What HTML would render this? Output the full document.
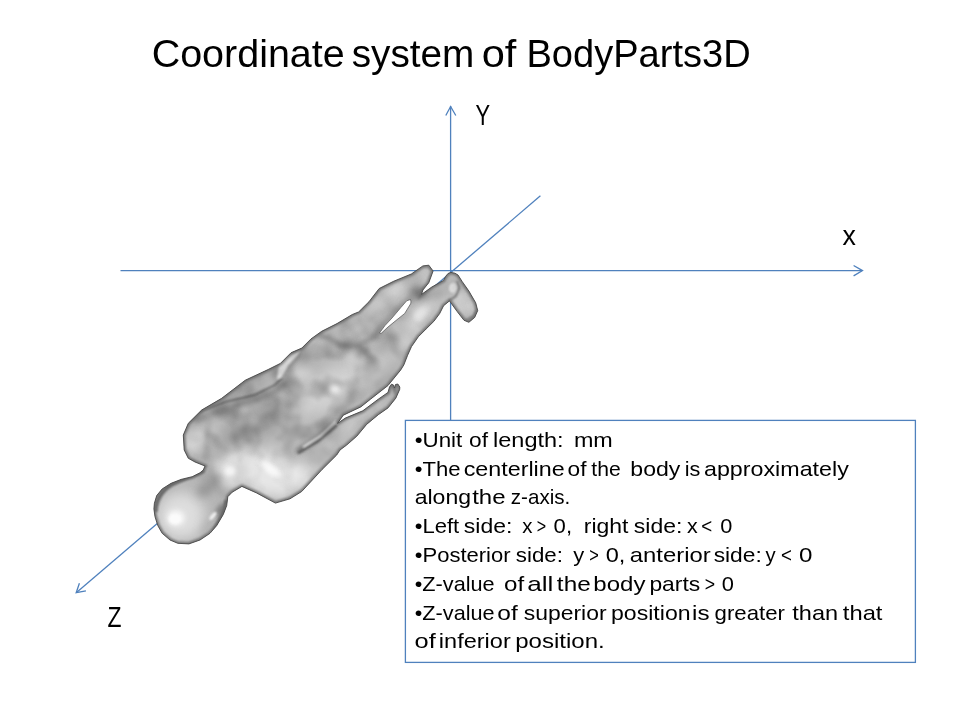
<!DOCTYPE html>
<html><head><meta charset="utf-8">
<style>
html,body{margin:0;padding:0;background:#fff;}
body{width:960px;height:720px;overflow:hidden;position:relative;}
svg{position:absolute;left:0;top:0;}
text{font-family:"Liberation Sans",sans-serif;fill:#000;white-space:pre;}
</style></head><body>
<svg xml:space="preserve" width="960" height="720" viewBox="0 0 960 720">
<g id="axes" stroke="#4F81BD" stroke-width="1.3" fill="none">
  <line x1="120.5" y1="270.6" x2="862" y2="270.6"/>
  <polyline points="853.6,265.5 862.5,270.6 853.6,275.9"/>
  <line x1="450.6" y1="106" x2="450.6" y2="420.4"/>
  <polyline points="445.8,115.5 450.6,106.5 455.8,115.5"/>
  <line x1="76.5" y1="592.6" x2="540.4" y2="195.8"/>
  <polyline points="79.4,583.2 76.2,592.7 85.9,590.8"/>
  <rect x="405.4" y="420.4" width="510" height="242"/>
</g>
<g id="body">
<defs>
  <path id="bp" d="M153.9,508.9 L154.4,503.3 L156.7,495.6 L162.2,488.9 L171.1,483.3 L181.1,479.4 L192.2,476.7 L200,472.8 L203.3,470 L205,466 L195,462 L188.3,458.3 L184.2,450 L183.3,435 L188.3,423.3 L201.7,410 L221.7,398.3 L245.3,380.2 L268.2,369.5 L280.4,363.4 L291.1,352.7 L301.8,348.1 L311,338.9 L321.7,331.3 L337,323.6 L352.3,314.5 L358.7,311.9 L369,301.7 L379.2,288.5 L393.8,281.2 L411.3,274 L422.9,265.9 L428.8,265.2 L433.1,271 L428.8,282.7 L422.9,290 L421.5,294.4 L431.7,287.1 L443.6,280.4 L445.6,276.5 L448,273.5 L451,272.4 L455,273.2 L458,275 L462.1,281.4 L468.9,291.1 L475.7,302.8 L477.7,310.6 L474.7,317.4 L468.9,322.3 L464,320.3 L457.2,311.6 L449.5,300.9 L443.6,305.7 L439.7,313.5 L433.9,321.3 L426.1,329 L418.3,336.8 L411.5,346.6 L407.6,355.3 L403.8,365 L400.7,370 L388,385.5 L370.5,399.2 L360.8,406.9 L343.3,415.2 L337.5,423.4 L345.3,418.1 L362.8,410.8 L378.3,399.2 L388,392.4 L389.5,387 L391.5,384.2 L393.5,385 L394.5,388 L395.5,384.5 L397.8,384 L399.8,387 L399.7,389.4 L395.8,398.2 L388,407.9 L378.3,414.7 L366.6,424.4 L356.9,436.1 L346.7,445 L340,450 L336.7,455 L322,469.6 L301.7,491.5 L290,498.8 L275.4,503.1 L256.5,492.9 L241.9,486.4 L232.2,492.2 L227.8,496.7 L226.7,505.6 L223.3,514.4 L216.7,525.6 L210,533.3 L200,540 L188.9,543.9 L177.8,543.3 L170,540 L162.2,533.3 L157.8,525.6 L155,516.7 Z"/>
  <clipPath id="bc"><use href="#bp"/></clipPath>
  <filter id="b1" x="-50%" y="-50%" width="200%" height="200%"><feGaussianBlur stdDeviation="1.2"/></filter>
  <filter id="b2" x="-50%" y="-50%" width="200%" height="200%"><feGaussianBlur stdDeviation="2.5"/></filter>
  <filter id="b4" x="-50%" y="-50%" width="200%" height="200%"><feGaussianBlur stdDeviation="4"/></filter>
  <filter id="b8" x="-50%" y="-50%" width="200%" height="200%"><feGaussianBlur stdDeviation="7"/></filter>
  <filter id="noise" x="0" y="0" width="100%" height="100%"><feTurbulence type="fractalNoise" baseFrequency="0.05" numOctaves="2" seed="7"/><feColorMatrix type="matrix" values="0 0 0 0 0  0 0 0 0 0  0 0 0 0 0  0 1.2 0 0 -0.5"/><feGaussianBlur stdDeviation="1.5"/></filter>
  <filter id="noise2" x="0" y="0" width="100%" height="100%"><feTurbulence type="fractalNoise" baseFrequency="0.05" numOctaves="2" seed="21"/><feColorMatrix type="matrix" values="0 0 0 0 1  0 0 0 0 1  0 0 0 0 1  0 1.2 0 0 -0.55"/><feGaussianBlur stdDeviation="1.5"/></filter>
  <radialGradient id="mg"><stop offset="0" stop-color="#fff"/><stop offset="0.7" stop-color="#fff"/><stop offset="1" stop-color="#000"/></radialGradient>
  <filter id="b6m" x="-50%" y="-50%" width="200%" height="200%"><feGaussianBlur stdDeviation="6"/></filter>
  <mask id="nohead"><rect x="140" y="250" width="350" height="310" fill="#fff"/><ellipse cx="188" cy="512" rx="36" ry="34" fill="#000" filter="url(#b6m)"/></mask>
  <mask id="backmask"><ellipse cx="300" cy="390" rx="130" ry="55" transform="rotate(-38 300 390)" fill="url(#mg)"/></mask>
</defs>
<use href="#bp" fill="#b6b6b6"/>
<g clip-path="url(#bc)">
  <g filter="url(#b8)">
    <ellipse cx="181" cy="516" rx="24" ry="24" fill="#dedede"/>
    <ellipse cx="265" cy="474" rx="50" ry="22" transform="rotate(8 265 474)" fill="#e6e6e6"/>
    <ellipse cx="255" cy="425" rx="42" ry="15" transform="rotate(-33 255 425)" fill="#a0a0a0"/>
    <ellipse cx="330" cy="388" rx="34" ry="17" transform="rotate(-40 330 388)" fill="#d0d0d0"/>
    <ellipse cx="360" cy="350" rx="22" ry="10" transform="rotate(-40 360 350)" fill="#b8b8b8"/>
    <ellipse cx="395" cy="300" rx="26" ry="7" transform="rotate(-35 395 300)" fill="#c2c2c2"/>
    <ellipse cx="425" cy="318" rx="28" ry="9" transform="rotate(-52 425 318)" fill="#c6c6c6"/>
    <ellipse cx="462" cy="300" rx="6" ry="14" transform="rotate(-35 462 300)" fill="#cccccc"/>
    <ellipse cx="360" cy="420" rx="34" ry="7" transform="rotate(-40 360 420)" fill="#c4c4c4"/>
  </g>
  <g filter="url(#b4)">
    <ellipse cx="195" cy="440" rx="9" ry="15" transform="rotate(25 195 440)" fill="#d0d0d0"/>
    <polygon points="190,416 280,364 290,372 196,426" fill="#a8a8a8"/>
    <ellipse cx="209" cy="486" rx="14" ry="7" transform="rotate(-40 209 486)" fill="#949494"/>
    <ellipse cx="212" cy="528" rx="8" ry="12" transform="rotate(40 212 528)" fill="#b4b4b4"/>
    <ellipse cx="298" cy="365" rx="16" ry="8" transform="rotate(-40 298 365)" fill="#a4a4a4"/>
    <ellipse cx="417" cy="293" rx="8" ry="6" fill="#6a6a6a"/>
    <ellipse cx="386" cy="342" rx="12" ry="6" transform="rotate(-45 386 342)" fill="#a2a2a2"/>
    <ellipse cx="246" cy="432" rx="9" ry="6" fill="#8e8e8e"/>
    <ellipse cx="272" cy="404" rx="10" ry="5" fill="#949494"/>
    <ellipse cx="232" cy="412" rx="8" ry="5" fill="#9a9a9a"/>
    <ellipse cx="238" cy="473" rx="10" ry="14" fill="#d4d4d4"/>
    <ellipse cx="303" cy="374" rx="10" ry="7" fill="#d0d0d0"/>
    <ellipse cx="356" cy="362" rx="8" ry="6" fill="#d0d0d0"/>
    <ellipse cx="381" cy="362" rx="8" ry="6" fill="#c8c8c8"/>
    <ellipse cx="405" cy="345" rx="10" ry="5" transform="rotate(-55 405 345)" fill="#d0d0d0"/>
    <ellipse cx="320" cy="342" rx="7" ry="5" fill="#cacaca"/>
    <ellipse cx="421" cy="316" rx="14" ry="6" transform="rotate(-50 421 316)" fill="#dedede"/>
    <ellipse cx="394" cy="290" rx="12" ry="5" transform="rotate(-30 394 290)" fill="#d6d6d6"/>
    <ellipse cx="378" cy="302" rx="14" ry="5" transform="rotate(-40 378 302)" fill="#cacaca"/>
    <ellipse cx="462" cy="300" rx="4" ry="10" transform="rotate(-35 462 300)" fill="#dadada"/>
    <ellipse cx="426" cy="274" rx="4" ry="6" transform="rotate(40 426 274)" fill="#cccccc"/>
    <ellipse cx="465" cy="303" rx="7" ry="14" transform="rotate(-35 465 303)" fill="#d4d4d4"/>
    <ellipse cx="352" cy="335" rx="8" ry="5" transform="rotate(-30 352 335)" fill="#c6c6c6"/>
  </g>
  <g filter="url(#b2)">
    <polyline points="194,420 225,408 255,400 275,391 286,382" fill="none" stroke="#8a8a8a" stroke-width="7"/>
    <polyline points="318.75,335 331,338.75 340,345 353.75,346.25 370,340 381,331" fill="none" stroke="#6e6e6e" stroke-width="2.5"/>
    <polyline points="353.75,346.25 365,350 370,357.5" fill="none" stroke="#7a7a7a" stroke-width="2.5"/>
    <polyline points="284,366 292,360 300,352" fill="none" stroke="#7a7a7a" stroke-width="3"/>
    <polyline points="376,334 390,318 404,304 414,296" fill="none" stroke="#888" stroke-width="4"/>
    <polyline points="296,452 316,440 336,424" fill="none" stroke="#686868" stroke-width="4"/>
    <polyline points="210,412 208,432 207,450 204,462" fill="none" stroke="#9c9c9c" stroke-width="4"/>
    <ellipse cx="220" cy="510" rx="3" ry="8" transform="rotate(30 220 510)" fill="#777"/>
    <ellipse cx="176" cy="518" rx="9" ry="8" fill="#f6f6f6"/>
    <ellipse cx="271" cy="469" rx="12" ry="4" transform="rotate(38 271 469)" fill="#f8f8f8"/>
    <ellipse cx="230" cy="471" rx="5" ry="4" fill="#f4f4f4"/>
    <ellipse cx="335" cy="389" rx="4" ry="3" fill="#f0f0f0"/>
  </g>
  <g filter="url(#b1)">
    <polyline points="298,453 318,441 337,425" fill="none" stroke="#5a5a5a" stroke-width="2.2"/>
    <polyline points="303,447 320,436 336,421" fill="none" stroke="#f0f0f0" stroke-width="1.6"/>
    <polyline points="191,415 225,402 255,395 275,385 282,378" fill="none" stroke="#686868" stroke-width="2"/>
    <ellipse cx="213" cy="516" rx="2" ry="5" transform="rotate(40 213 516)" fill="#f0f0f0"/>
    <polygon points="277,379 279,364 287,356 301,349 297,356 288,366 281,378" fill="#f2f2f2"/>
    <ellipse cx="175" cy="519" rx="6" ry="5" fill="#fbfbfb"/>
    <path d="M155.5,512 Q156.5,494 171.5,484.5 Q189,476.5 204,470.5" fill="none" stroke="#6c6c6c" stroke-width="4"/>
    <path d="M226,500 Q224,515 214,530" fill="none" stroke="#6a6a6a" stroke-width="3"/>
    <ellipse cx="453" cy="288" rx="4" ry="5" fill="#e8e8e8"/>
    <polyline points="449,301 456,296 459,288 457,281" fill="none" stroke="#6a6a6a" stroke-width="1.6"/>
    <polyline points="466,320 474,316 477,309" fill="none" stroke="#8a8a8a" stroke-width="2"/>
  </g>
  <g mask="url(#nohead)">
  <rect x="150" y="260" width="330" height="290" filter="url(#noise)" opacity="0.22"/>
  <rect x="150" y="260" width="330" height="290" filter="url(#noise2)" opacity="0.3"/>
  </g>
  <g mask="url(#backmask)">
    <rect x="150" y="260" width="330" height="290" filter="url(#noise)" opacity="0.3"/>
  </g>
  <g filter="url(#b2)">
    <ellipse cx="270" cy="468" rx="11" ry="3.5" transform="rotate(36 270 468)" fill="#fafafa"/>
    <ellipse cx="230" cy="471" rx="4.5" ry="4" fill="#f6f6f6"/>
    <ellipse cx="335" cy="389" rx="4" ry="3" fill="#f0f0f0"/>
    <ellipse cx="420" cy="314" rx="8" ry="4" transform="rotate(-50 420 314)" fill="#e4e4e4"/>
  </g>
  <use href="#bp" fill="none" stroke="#666" stroke-width="4" opacity="0.8" filter="url(#b1)"/>
</g>
<use href="#bp" fill="none" stroke="#4a4a4a" stroke-width="0.9"/>
<polygon fill="#fff" stroke="#555" stroke-width="0.7" points="379.5,333 385,325.5 392,318 400.8,307.6 406.7,300.8 410.5,299.5 411,302 410.6,303.8 404.7,313.5 395,321.3 388,327 381,333.5"/>

</g>
<g id="title" font-size="39">
<text x="151.68" y="66.7" textLength="193.05" lengthAdjust="spacingAndGlyphs">Coordinate</text>
<text x="351.66" y="66.7" textLength="122.70" lengthAdjust="spacingAndGlyphs">system</text>
<text x="481.68" y="66.7" textLength="34.63" lengthAdjust="spacingAndGlyphs">of</text>
<text x="526.47" y="66.7" textLength="224.25" lengthAdjust="spacingAndGlyphs">BodyParts3D</text>
</g>
<text x="475.6" y="124.9" font-size="29.5" textLength="14.6" lengthAdjust="spacingAndGlyphs">Y</text>
<text x="842.5" y="245.1" font-size="27" textLength="13.4" lengthAdjust="spacingAndGlyphs">x</text>
<text x="107.6" y="627.1" font-size="29.5" textLength="14" lengthAdjust="spacingAndGlyphs">Z</text>
<g id="boxtext" font-size="21">
<text x="414.70" y="446.8" textLength="47.58" lengthAdjust="spacingAndGlyphs">•Unit</text>
<text x="469.03" y="446.8" textLength="18.95" lengthAdjust="spacingAndGlyphs">of</text>
<text x="493.06" y="446.8" textLength="70.61" lengthAdjust="spacingAndGlyphs">length:</text>
<text x="573.94" y="446.8" textLength="38.89" lengthAdjust="spacingAndGlyphs">mm</text>
<text x="414.74" y="475.6" textLength="45.90" lengthAdjust="spacingAndGlyphs">•The</text>
<text x="463.67" y="475.6" textLength="101.05" lengthAdjust="spacingAndGlyphs">centerline</text>
<text x="567.56" y="475.6" textLength="18.94" lengthAdjust="spacingAndGlyphs">of</text>
<text x="591.31" y="475.6" textLength="29.38" lengthAdjust="spacingAndGlyphs">the</text>
<text x="630.33" y="475.6" textLength="50.04" lengthAdjust="spacingAndGlyphs">body</text>
<text x="684.69" y="475.6" textLength="15.62" lengthAdjust="spacingAndGlyphs">is</text>
<text x="703.99" y="475.6" textLength="144.80" lengthAdjust="spacingAndGlyphs">approximately</text>
<text x="414.65" y="504.4" textLength="56.40" lengthAdjust="spacingAndGlyphs">along</text>
<text x="472.18" y="504.4" textLength="33.38" lengthAdjust="spacingAndGlyphs">the</text>
<text x="510.84" y="504.4" textLength="59.47" lengthAdjust="spacingAndGlyphs">z-axis.</text>
<text x="414.73" y="533.2" textLength="44.51" lengthAdjust="spacingAndGlyphs">•Left</text>
<text x="463.89" y="533.2" textLength="48.52" lengthAdjust="spacingAndGlyphs">side:</text>
<text x="522.36" y="533.2" textLength="10.22" lengthAdjust="spacingAndGlyphs">x</text>
<text x="536.84" y="533.2" textLength="9.39" lengthAdjust="spacingAndGlyphs">&gt;</text>
<text x="553.64" y="533.2" textLength="18.44" lengthAdjust="spacingAndGlyphs">0,</text>
<text x="583.84" y="533.2" textLength="44.68" lengthAdjust="spacingAndGlyphs">right</text>
<text x="633.89" y="533.2" textLength="48.52" lengthAdjust="spacingAndGlyphs">side:</text>
<text x="687.04" y="533.2" textLength="10.73" lengthAdjust="spacingAndGlyphs">x</text>
<text x="701.37" y="533.2" textLength="10.94" lengthAdjust="spacingAndGlyphs">&lt;</text>
<text x="720.26" y="533.2" textLength="12.10" lengthAdjust="spacingAndGlyphs">0</text>
<text x="414.75" y="562.0" textLength="95.85" lengthAdjust="spacingAndGlyphs">•Posterior</text>
<text x="515.88" y="562.0" textLength="47.07" lengthAdjust="spacingAndGlyphs">side:</text>
<text x="573.17" y="562.0" textLength="10.97" lengthAdjust="spacingAndGlyphs">y</text>
<text x="589.23" y="562.0" textLength="9.56" lengthAdjust="spacingAndGlyphs">&gt;</text>
<text x="605.76" y="562.0" textLength="19.64" lengthAdjust="spacingAndGlyphs">0,</text>
<text x="629.76" y="562.0" textLength="80.92" lengthAdjust="spacingAndGlyphs">anterior</text>
<text x="713.67" y="562.0" textLength="48.10" lengthAdjust="spacingAndGlyphs">side:</text>
<text x="765.50" y="562.0" textLength="10.14" lengthAdjust="spacingAndGlyphs">y</text>
<text x="780.94" y="562.0" textLength="10.92" lengthAdjust="spacingAndGlyphs">&lt;</text>
<text x="799.02" y="562.0" textLength="13.42" lengthAdjust="spacingAndGlyphs">0</text>
<text x="414.79" y="590.8" textLength="79.92" lengthAdjust="spacingAndGlyphs">•Z-value</text>
<text x="503.96" y="590.8" textLength="20.14" lengthAdjust="spacingAndGlyphs">of</text>
<text x="527.27" y="590.8" textLength="26.15" lengthAdjust="spacingAndGlyphs">all</text>
<text x="556.88" y="590.8" textLength="33.81" lengthAdjust="spacingAndGlyphs">the</text>
<text x="593.36" y="590.8" textLength="52.09" lengthAdjust="spacingAndGlyphs">body</text>
<text x="649.43" y="590.8" textLength="50.77" lengthAdjust="spacingAndGlyphs">parts</text>
<text x="704.83" y="590.8" textLength="10.34" lengthAdjust="spacingAndGlyphs">&gt;</text>
<text x="721.84" y="590.8" textLength="12.17" lengthAdjust="spacingAndGlyphs">0</text>
<text x="414.79" y="619.6" textLength="79.92" lengthAdjust="spacingAndGlyphs">•Z-value</text>
<text x="497.37" y="619.6" textLength="20.44" lengthAdjust="spacingAndGlyphs">of</text>
<text x="523.71" y="619.6" textLength="82.87" lengthAdjust="spacingAndGlyphs">superior</text>
<text x="611.04" y="619.6" textLength="79.53" lengthAdjust="spacingAndGlyphs">position</text>
<text x="692.11" y="619.6" textLength="17.46" lengthAdjust="spacingAndGlyphs">is</text>
<text x="714.60" y="619.6" textLength="70.30" lengthAdjust="spacingAndGlyphs">greater</text>
<text x="792.29" y="619.6" textLength="45.82" lengthAdjust="spacingAndGlyphs">than</text>
<text x="842.89" y="619.6" textLength="39.60" lengthAdjust="spacingAndGlyphs">that</text>
<text x="414.59" y="648.4" textLength="21.21" lengthAdjust="spacingAndGlyphs">of</text>
<text x="438.89" y="648.4" textLength="71.86" lengthAdjust="spacingAndGlyphs">inferior</text>
<text x="515.18" y="648.4" textLength="89.55" lengthAdjust="spacingAndGlyphs">position.</text>
</g>
</svg>
</body></html>
